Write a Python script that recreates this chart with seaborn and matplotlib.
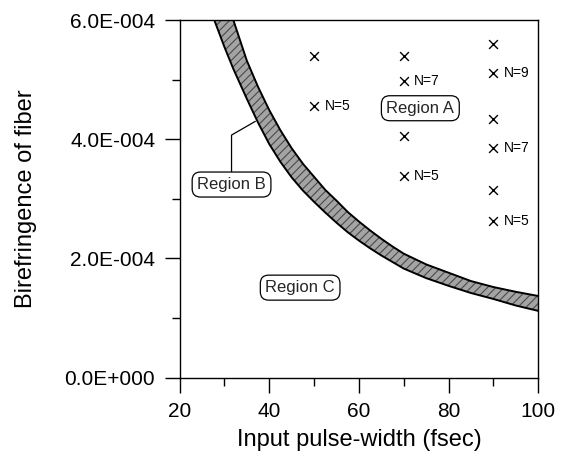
import matplotlib
matplotlib.use("Agg")
import matplotlib.pyplot as plt
import matplotlib.ticker as mticker
import numpy as np
import pandas as pd
import seaborn as sns

# band edges (Region B), birefringence in units of 1e-4
BAND_X = [26, 28, 30, 32, 35, 37.5, 40, 42.5, 45, 47.5, 50, 52.5, 55, 57.5,
          60, 62.5, 65, 67.5, 70, 75, 80, 85, 90, 95, 100]
BAND_UPPER = [7.86, 7.14, 6.53, 6.0, 5.32, 4.88, 4.49, 4.15, 3.85, 3.59, 3.37,
              3.15, 2.97, 2.78, 2.62, 2.47, 2.33, 2.20, 2.08, 1.90, 1.76, 1.62,
              1.52, 1.44, 1.37]
BAND_LOWER = [6.35, 5.95, 5.55, 5.18, 4.68, 4.28, 3.92, 3.62, 3.36, 3.14, 2.95,
              2.77, 2.60, 2.44, 2.30, 2.17, 2.05, 1.94, 1.83, 1.67, 1.54, 1.42,
              1.32, 1.21, 1.12]

# simulation points (Region A)
POINT_X = [50, 50, 70, 70, 70, 70, 90, 90, 90, 90, 90, 90]
POINT_Y = [5.40, 4.55, 5.40, 4.98, 4.06, 3.38, 5.60, 5.11, 4.34, 3.86, 3.14, 2.63]
POINT_LABEL = ["", "N=5", "", "N=7", "", "N=5", "", "N=9", "", "N=7", "", "N=5"]

REGIONS = {"Region A": (73.7, 4.52), "Region B": (31.6, 3.24), "Region C": (46.9, 1.51)}
REGION_B_POINT = (36.9, 4.30)

SCALE = 1e-4
FONT = ["Liberation Sans", "DejaVu Sans"]


def sci_label(value, pos):
    if value == 0:
        return "0.0E+000"
    exp = int(np.floor(np.log10(abs(value))))
    mant = value / 10 ** exp
    sign = "-" if exp < 0 else "+"
    return f"{mant:.1f}E{sign}{abs(exp):03d}"


def main():
    sns.set_theme(style="ticks")
    plt.rcParams["font.family"] = FONT
    plt.rcParams["hatch.linewidth"] = 0.8

    band = pd.DataFrame({
        "x": BAND_X,
        "upper": np.array(BAND_UPPER) * SCALE,
        "lower": np.array(BAND_LOWER) * SCALE,
    })
    points = pd.DataFrame({"x": POINT_X, "y": np.array(POINT_Y) * SCALE, "label": POINT_LABEL})

    fig = plt.figure(figsize=(5.61, 4.55), dpi=100)
    ax = fig.add_axes([0.320, 0.170, 0.6395, 0.786])

    ax.fill_between(band["x"], band["lower"], band["upper"], facecolor="#a4a4a4",
                    edgecolor="#4a4a4a", hatch="////", linewidth=0, zorder=2)
    sns.lineplot(data=band, x="x", y="upper", color="black", linewidth=1.4, ax=ax, zorder=3)
    sns.lineplot(data=band, x="x", y="lower", color="black", linewidth=1.4, ax=ax, zorder=3)

    sns.scatterplot(data=points, x="x", y="y", marker="x", s=40, color="black",
                    linewidth=1.0, ax=ax, zorder=4)
    for _, row in points.iterrows():
        if row["label"]:
            ax.annotate(row["label"], (row["x"], row["y"]), xytext=(7.5, 0),
                        textcoords="offset points", va="center", ha="left",
                        fontsize=10, color="black")

    box = dict(boxstyle="round,pad=0.3,rounding_size=0.5", facecolor="white",
               edgecolor="black", linewidth=0.9)
    for name, (rx, ry) in REGIONS.items():
        if name == "Region B":
            continue
        ax.text(rx, ry * SCALE, name, ha="center", va="center", fontsize=12,
                bbox=box, zorder=5)
    bx, by = REGIONS["Region B"]
    px, py = REGION_B_POINT
    ax.annotate("Region B", xy=(px, py * SCALE), xytext=(bx, by * SCALE),
                ha="center", va="center", fontsize=12, bbox=box, zorder=5,
                arrowprops=dict(arrowstyle="-", color="black", linewidth=0.9,
                                connectionstyle="angle,angleA=90,angleB=30,rad=0",
                                shrinkA=0, shrinkB=0))

    ax.set_xlim(20, 100)
    ax.set_ylim(0, 6e-4)
    ax.xaxis.set_major_locator(mticker.MultipleLocator(20))
    ax.xaxis.set_minor_locator(mticker.MultipleLocator(10))
    ax.yaxis.set_major_locator(mticker.MultipleLocator(2e-4))
    ax.yaxis.set_minor_locator(mticker.MultipleLocator(1e-4))
    ax.yaxis.set_major_formatter(mticker.FuncFormatter(sci_label))
    ax.tick_params(which="major", direction="out", length=10.5, width=1.0,
                   labelsize=15, colors="black", pad=7)
    ax.tick_params(which="minor", direction="out", length=5.5, width=1.0, colors="black")
    for spine in ax.spines.values():
        spine.set_visible(True)
        spine.set_color("black")
        spine.set_linewidth(1.0)

    ax.set_xlabel("Input pulse-width (fsec)", fontsize=17, color="black", labelpad=6)
    ax.set_ylabel("Birefringence of fiber", fontsize=17, color="black", labelpad=20)

    fig.savefig("out.png", dpi=100, facecolor="white")
    plt.close(fig)


if __name__ == "__main__":
    main()
